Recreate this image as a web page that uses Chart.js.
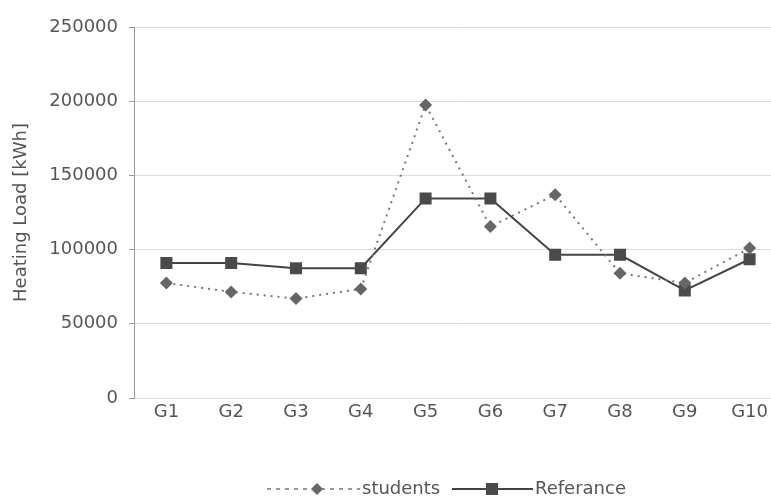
<!DOCTYPE html>
<html>
<head>
<meta charset="utf-8">
<script src="https://cdn.jsdelivr.net/npm/chart.js@4"></script>
<style>
  html, body { margin: 0; padding: 0; background: #fff; overflow: hidden; }
  #wrap { width: 771px; height: 500px; overflow: hidden; position: relative; }
  canvas { display: block; }
</style>
</head>
<body>
<div id="wrap"><canvas id="c" width="800" height="500"></canvas></div>
<script>
// Heating load per building group
const categories = ['G1', 'G2', 'G3', 'G4', 'G5', 'G6', 'G7', 'G8', 'G9', 'G10'];
const studentsValues = [77500, 71500, 67000, 73500, 197500, 115500, 137000, 84000, 77500, 101000];
const referenceValues = [91000, 91000, 87500, 87500, 134500, 134500, 96500, 96500, 72500, 93500];
const yTicks = [0, 50000, 100000, 150000, 200000, 250000];

const FONT = '"DejaVu Sans", sans-serif';
const FONT_SIZE = 18;
const TEXT = '#555';

// Legend drawn under the axis: dashed line with diamond, solid line with square
const lineLegend = {
  id: 'lineLegend',
  afterDraw(chart) {
    const ctx = chart.ctx;
    const y = 489;
    ctx.save();
    ctx.font = FONT_SIZE + 'px ' + FONT;
    ctx.textBaseline = 'middle';

    // students
    ctx.strokeStyle = '#777';
    ctx.lineWidth = 1.5;
    ctx.setLineDash([4, 5]);
    ctx.beginPath(); ctx.moveTo(267, y); ctx.lineTo(360, y); ctx.stroke();
    ctx.setLineDash([]);
    ctx.fillStyle = '#666';
    ctx.beginPath();
    ctx.moveTo(317, y - 6); ctx.lineTo(323, y); ctx.lineTo(317, y + 6); ctx.lineTo(311, y);
    ctx.closePath(); ctx.fill();
    ctx.fillStyle = TEXT;
    ctx.fillText('students', 362, y);

    // Referance
    ctx.strokeStyle = '#444';
    ctx.lineWidth = 2;
    ctx.beginPath(); ctx.moveTo(452, y); ctx.lineTo(533, y); ctx.stroke();
    ctx.fillStyle = '#4a4a4a';
    ctx.fillRect(486, y - 6, 12, 12);
    ctx.fillStyle = TEXT;
    ctx.fillText('Referance', 535, y);
    ctx.restore();
  }
};

new Chart(document.getElementById('c'), {
  type: 'line',
  data: {
    labels: categories,
    datasets: [
      {
        label: 'students',
        data: studentsValues,
        borderColor: '#777',
        borderWidth: 2,
        borderDash: [2, 5],
        pointStyle: 'rectRot',
        pointRadius: 6.5,
        pointBackgroundColor: '#666',
        pointBorderColor: '#666',
        pointBorderWidth: 0,
        tension: 0
      },
      {
        label: 'Referance',
        data: referenceValues,
        borderColor: '#444',
        borderWidth: 2,
        pointStyle: 'rect',
        pointRadius: 8.5,
        pointBackgroundColor: '#4a4a4a',
        pointBorderColor: '#4a4a4a',
        pointBorderWidth: 0,
        tension: 0
      }
    ]
  },
  options: {
    responsive: false,
    animation: false,
    layout: { padding: { top: 27, right: 18, bottom: 0, left: 0 } },
    plugins: { legend: { display: false }, tooltip: { enabled: false } },
    scales: {
      x: {
        offset: true,
        grid: { display: false, drawTicks: false },
        border: { display: false },
        ticks: { color: TEXT, font: { family: FONT, size: FONT_SIZE }, padding: 4 },
        afterFit(scale) { scale.height = 102; }
      },
      y: {
        min: 0,
        max: 250000,
        afterBuildTicks(scale) { scale.ticks = yTicks.map(v => ({ value: v })); },
        grid: { color: '#dcdcdc', lineWidth: 1, tickLength: 5, tickColor: '#999' },
        border: { display: true, color: '#999', width: 1 },
        ticks: {
          color: TEXT,
          font: { family: FONT, size: FONT_SIZE },
          padding: 11,
          callback: (v) => String(v)
        },
        title: {
          display: true,
          text: 'Heating Load [kWh]',
          color: TEXT,
          font: { family: FONT, size: FONT_SIZE },
          padding: { top: 11, bottom: 0 }
        },
        afterFit(scale) { scale.width = 134; }
      }
    }
  },
  plugins: [lineLegend]
});
</script>
</body>
</html>
